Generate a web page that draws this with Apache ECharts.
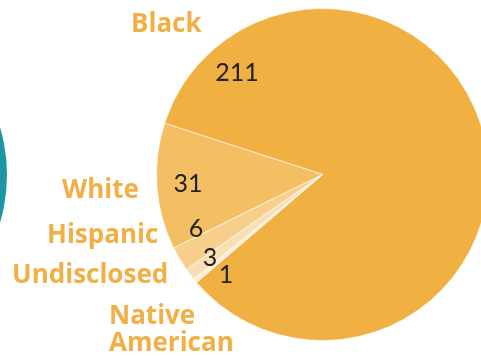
<!DOCTYPE html>
<html>
<head>
<meta charset="utf-8">
<style>
  html, body { margin: 0; padding: 0; background: #ffffff; }
  #chart { width: 481px; height: 356px; }
</style>
<script src="https://cdn.jsdelivr.net/npm/echarts@6/dist/echarts.min.js"></script>
</head>
<body>
<div id="chart"></div>
<script>
// Respondents by race / ethnicity
const categories = ['Black', 'White', 'Hispanic', 'Undisclosed', 'Native American'];
const counts = [211, 31, 6, 3, 1];
const sliceColors = ['#F1B042', '#F4BF63', '#F7CF8B', '#FADFB4', '#FDEED8'];

// Hand placement of the labels (pixel anchors)
const countLabelAt = [[237, 73], [188, 184], [196, 229], [210, 258], [226, 275]];
const nameLabelAt = [[131, 25], [62, 191], [47, 236], [12, 276], [109, 330]];

const PIE_CENTER = [322.5, 174.5];
const PIE_RADIUS = 166;

const pieData = categories.map((name, i) => ({
  name: name,
  value: counts[i],
  itemStyle: { color: sliceColors[i] }
}));

const chart = echarts.init(document.getElementById('chart'), null, { renderer: 'canvas' });

chart.setOption({
  animation: false,
  backgroundColor: '#ffffff',
  graphic: [{
    // edge of the neighbouring panel's pie
    type: 'circle',
    shape: { cx: -159, cy: 175, r: 166 },
    style: { fill: '#1A97A2' },
    silent: true
  }],
  series: [
    {
      type: 'pie',
      center: PIE_CENTER,
      radius: PIE_RADIUS,
      clockwise: false,
      startAngle: 220.6,
      avoidLabelOverlap: false,
      data: pieData,
      itemStyle: { borderColor: 'rgba(255,255,255,0.75)', borderWidth: 0.8 },
      label: {
        show: true,
        position: 'inside',
        formatter: '{c}',
        color: '#222222',
        fontSize: 25,
        fontFamily: 'Lato, "Open Sans", sans-serif'
      },
      labelLayout: function (p) {
        const pos = countLabelAt[p.dataIndex];
        return { x: pos[0], y: pos[1], align: 'center', verticalAlign: 'middle' };
      },
      emphasis: { disabled: true }
    },
    {
      type: 'pie',
      center: PIE_CENTER,
      radius: PIE_RADIUS,
      clockwise: false,
      startAngle: 220.6,
      silent: true,
      avoidLabelOverlap: false,
      data: categories.map((name, i) => ({ name: name, value: counts[i] })),
      itemStyle: { color: 'rgba(0,0,0,0)' },
      label: {
        show: true,
        position: 'outside',
        formatter: (p) => p.name.replace(' ', '\n'),
        color: '#F1AF45',
        fontSize: 26,
        fontWeight: 'bold',
        lineHeight: 27,
        fontFamily: '"Open Sans", Lato, sans-serif'
      },
      labelLine: { show: false },
      labelLayout: function (p) {
        const pos = nameLabelAt[p.dataIndex];
        return { x: pos[0], y: pos[1], align: 'left', verticalAlign: 'middle' };
      },
      emphasis: { disabled: true }
    }
  ]
});
</script>
</body>
</html>
